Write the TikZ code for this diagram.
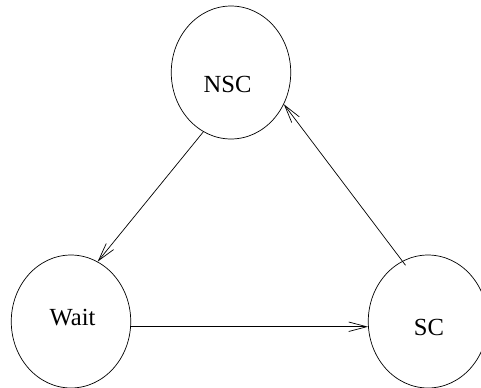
\documentclass[tikz,border=0pt]{standalone}
\usepackage{fontspec}
\setmainfont{Liberation Serif}
\usetikzlibrary{arrows.meta, shapes.geometric}

\begin{document}
\begin{tikzpicture}[x=0.02cm, y=-0.02cm,
    every node/.style={font=\fontsize{14}{16}\selectfont},
    state/.style={ellipse, draw, thin, inner sep=0pt,
                  minimum width=2.39cm, minimum height=2.66cm},
    trans/.style={draw, thin, -{Straight Barb[length=0.36cm, width=0.19cm]}}]
      \useasboundingbox (0,0) rectangle (481,387);
      % the three states
      \node[state] (nsc) at (231,72.5) {};
      \node[state] (wait) at (71,321.5) {};
      \node[state] (sc) at (428,321.5) {};
      \node (nsclabel) at (227.5,84) {NSC};
      \node (waitlabel) at (72.5,318) {Wait};
      \node (sclabel) at (429,327) {SC};
      % transitions
      \draw[trans] (nsc.245) -- (wait.66);
      \draw[trans] (wait.355) -- (sc.185);
      \draw[trans, shorten <=-3pt] (sc.113) -- (nsc.329);
    \end{tikzpicture}
\end{document}
